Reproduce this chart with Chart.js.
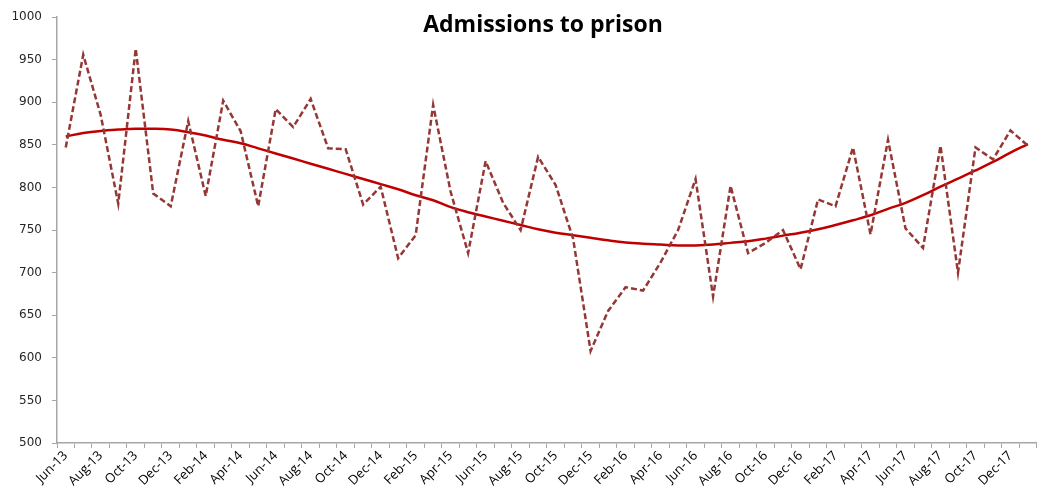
<!DOCTYPE html>
<html>
<head>
<meta charset="utf-8">
<title>Admissions to prison</title>
<script src="https://cdn.jsdelivr.net/npm/chart.js@4/dist/chart.umd.min.js"></script>
<style>
  html, body { margin: 0; padding: 0; background: #fff; }
  #wrap { width: 1039px; height: 490px; position: relative; }
</style>
</head>
<body>
<div id="wrap"><canvas id="admissionsChart"></canvas></div>
<script>
/* =========================
   DATA
========================= */

const months = [
  'Jun-13', 'Jul-13', 'Aug-13', 'Sep-13', 'Oct-13', 'Nov-13', 'Dec-13',
  'Jan-14', 'Feb-14', 'Mar-14', 'Apr-14', 'May-14', 'Jun-14', 'Jul-14', 'Aug-14', 'Sep-14', 'Oct-14', 'Nov-14', 'Dec-14',
  'Jan-15', 'Feb-15', 'Mar-15', 'Apr-15', 'May-15', 'Jun-15', 'Jul-15', 'Aug-15', 'Sep-15', 'Oct-15', 'Nov-15', 'Dec-15',
  'Jan-16', 'Feb-16', 'Mar-16', 'Apr-16', 'May-16', 'Jun-16', 'Jul-16', 'Aug-16', 'Sep-16', 'Oct-16', 'Nov-16', 'Dec-16',
  'Jan-17', 'Feb-17', 'Mar-17', 'Apr-17', 'May-17', 'Jun-17', 'Jul-17', 'Aug-17', 'Sep-17', 'Oct-17', 'Nov-17', 'Dec-17',
  'Jan-18'
];

// monthly admissions
const admissions = [
  847, 956, 885, 781, 963, 793, 778,
  878, 790, 902, 866, 778, 892, 871, 904, 846, 845, 780, 801,
  717, 744, 897, 795, 723, 831, 782, 750, 836, 803, 740, 608,
  655, 683, 679, 712, 750, 810, 672, 802, 723, 735, 750, 704,
  786, 778, 847, 745, 856, 752, 729, 849, 700, 847, 833, 867,
  849
];

// polynomial trend line
const trend = [
  860, 864, 866.5, 868, 869, 869, 868,
  865, 861, 856, 852, 846, 840, 834, 828, 822, 816, 810, 804,
  798, 791, 785, 777, 771, 766, 761, 756, 751, 747, 744, 741,
  738, 735.5, 734, 733, 732, 732, 733, 735, 737, 740, 743.5, 747,
  751, 756, 761.5, 767.5, 775, 782, 791, 801, 810.5, 820, 830, 841,
  851
];

const yTicks = { min: 500, max: 1000, step: 50 };

/* =========================
   CHART
========================= */

const axisGrey = '#a6a6a6';

// title sits inside the plot area, drawn by hand
const titlePlugin = {
  id: 'insideTitle',
  afterDraw(chart) {
    const ctx = chart.ctx;
    ctx.save();
    ctx.font = 'bold 23px "Open Sans", sans-serif';
    ctx.fillStyle = '#000';
    ctx.textAlign = 'center';
    ctx.textBaseline = 'middle';
    ctx.fillText('Admissions to prison', 543, 25);
    ctx.restore();
  }
};

const ctx = document.getElementById('admissionsChart').getContext('2d');

new Chart(ctx, {
  type: 'line',
  data: {
    labels: months,
    datasets: [
      {
        label: 'Admissions',
        data: admissions,
        borderColor: '#953735',
        borderWidth: 2.5,
        borderDash: [6, 3],
        pointRadius: 0,
        fill: false,
        tension: 0
      },
      {
        label: 'Trend',
        data: trend,
        borderColor: '#c00000',
        borderWidth: 2.5,
        pointRadius: 0,
        fill: false,
        tension: 0.4
      }
    ]
  },
  options: {
    responsive: true,
    maintainAspectRatio: false,
    animation: false,
    layout: { padding: { top: 13, right: 0, bottom: 0, left: 0 } },
    plugins: {
      legend: { display: false },
      title: { display: false },
      tooltip: { enabled: false }
    },
    scales: {
      x: {
        offset: true,
        grid: {
          offset: true,
          drawOnChartArea: false,
          drawTicks: true,
          tickLength: 5,
          color: axisGrey
        },
        border: { color: axisGrey, width: 1.5 },
        ticks: {
          autoSkip: false,
          minRotation: 45,
          maxRotation: 45,
          padding: 0,
          color: '#000',
          font: { family: '"Open Sans", sans-serif', size: 13 },
          callback: (value, i) => (i % 2 === 0 ? months[i] : '')
        },
        afterFit: scale => { scale.height = 47; }
      },
      y: {
        min: yTicks.min,
        max: yTicks.max,
        grid: {
          drawOnChartArea: false,
          drawTicks: true,
          tickLength: 5,
          color: axisGrey
        },
        border: { color: axisGrey, width: 1.5 },
        ticks: {
          stepSize: yTicks.step,
          padding: 10,
          color: '#262626',
          font: { family: '"DejaVu Sans", sans-serif', size: 12 },
          callback: value => String(value)
        },
        afterFit: scale => { scale.width = 57; }
      }
    }
  },
  plugins: [titlePlugin]
});
</script>
</body>
</html>
